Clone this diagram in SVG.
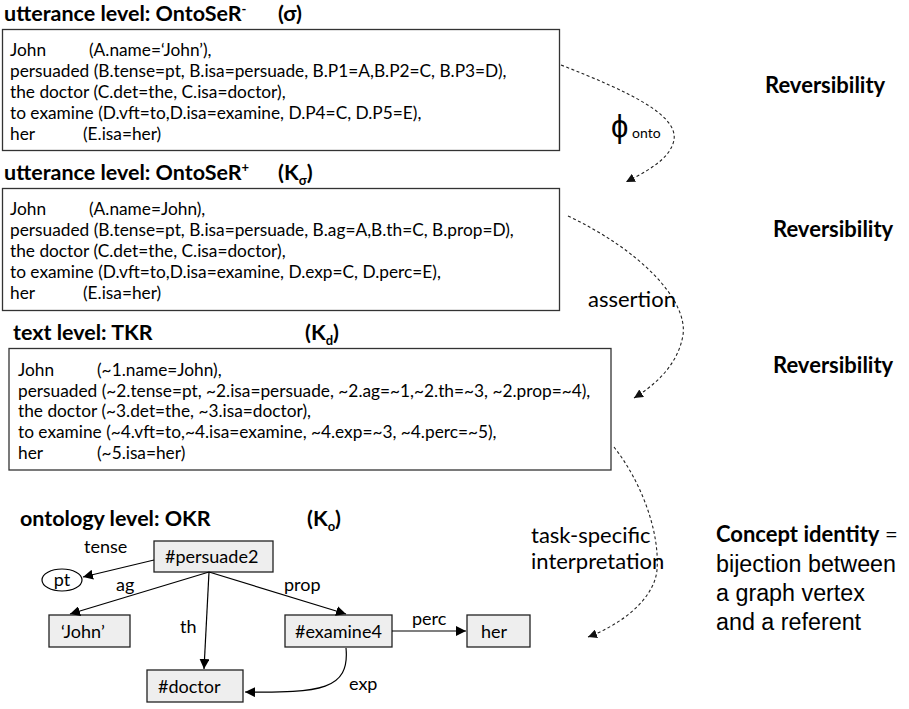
<svg xmlns="http://www.w3.org/2000/svg" width="909" height="709" viewBox="0 0 909 709">
  <style>
    .hdr { font-family: Lato, "Liberation Sans", Arial, sans-serif; font-weight: bold; font-size: 21.5px; fill: #000; }
    .body { font-family: Lato, "Liberation Sans", Arial, sans-serif; font-size: 17.3px; fill: #000; }
    .rev { font-family: Lato, "Liberation Sans", Arial, sans-serif; font-weight: bold; font-size: 22px; fill: #000; }
    .lbl { font-family: Lato, "Liberation Sans", Arial, sans-serif; font-size: 22px; fill: #000; }
    .sub { font-family: Lato, "Liberation Sans", Arial, sans-serif; font-size: 14px; fill: #000; }
    .edge { font-family: Lato, "Liberation Sans", Arial, sans-serif; font-size: 18px; fill: #000; }
    .node { font-family: Lato, "Liberation Sans", Arial, sans-serif; font-size: 18px; fill: #000; }
    .arial { font-family: "Liberation Sans", Arial, sans-serif; font-size: 23.3px; fill: #000; }
    .panel { fill: #fff; stroke: #333; stroke-width: 1.3; }
    .vbox { fill: #eeeeee; stroke: #222; stroke-width: 1.3; }
    .conn { fill: none; stroke: #000; stroke-width: 1.2; }
    .dots { fill: none; stroke: #222; stroke-width: 1.1; stroke-dasharray: 3 2.5; }
  </style>
  <defs>
    <marker id="arr" viewBox="0 0 10 10" refX="10" refY="5" markerWidth="10" markerHeight="10" markerUnits="userSpaceOnUse" orient="auto">
      <path d="M0,0 L10,5 L0,10 z" fill="#000"/>
    </marker>
    <marker id="arrDot" viewBox="0 0 10 10" refX="10" refY="5" markerWidth="9" markerHeight="9" markerUnits="userSpaceOnUse" orient="auto">
      <path d="M0,0 L10,5 L0,10 z" fill="#111"/>
    </marker>
  </defs>

  <!-- Level 1: utterance level OntoSeR- -->
  <g id="level-ontoser-minus">
    <text class="hdr" x="4" y="21">utterance level:  OntoSeR<tspan font-size="13" dy="-7">-</tspan></text>
    <text class="hdr" x="278" y="21">(σ)</text>
    <rect class="panel" x="2.5" y="29.5" width="557" height="121"/>
    <text class="body" x="10" y="56">John</text>
    <text class="body" x="89" y="56">(A.name=‘John’),</text>
    <text class="body" x="10" y="77">persuaded (B.tense=pt, B.isa=persuade, B.P1=A,B.P2=C, B.P3=D),</text>
    <text class="body" x="10" y="98">the doctor (C.det=the, C.isa=doctor),</text>
    <text class="body" x="10" y="119">to examine (D.vft=to,D.isa=examine, D.P4=C, D.P5=E),</text>
    <text class="body" x="10" y="140">her</text>
    <text class="body" x="83" y="140">(E.isa=her)</text>
  </g>

  <!-- Level 2: utterance level OntoSeR+ -->
  <g id="level-ontoser-plus">
    <text class="hdr" x="4" y="180">utterance level:  OntoSeR<tspan font-size="13" dy="-8">+</tspan></text>
    <text class="hdr" x="278" y="180">(K<tspan font-size="13" dy="5">σ</tspan><tspan dy="-5">)</tspan></text>
    <rect class="panel" x="2.5" y="188.5" width="557" height="122"/>
    <text class="body" x="10" y="215">John</text>
    <text class="body" x="89" y="215">(A.name=John),</text>
    <text class="body" x="10" y="236">persuaded (B.tense=pt, B.isa=persuade, B.ag=A,B.th=C, B.prop=D),</text>
    <text class="body" x="10" y="257">the doctor (C.det=the, C.isa=doctor),</text>
    <text class="body" x="10" y="278">to examine (D.vft=to,D.isa=examine, D.exp=C, D.perc=E),</text>
    <text class="body" x="10" y="299">her</text>
    <text class="body" x="83" y="299">(E.isa=her)</text>
  </g>

  <!-- Level 3: text level TKR -->
  <g id="level-tkr">
    <text class="hdr" x="13" y="340">text level: TKR</text>
    <text class="hdr" x="305" y="340">(K<tspan font-size="13" dy="5">d</tspan><tspan dy="-5">)</tspan></text>
    <rect class="panel" x="9" y="348.5" width="602" height="121.5"/>
    <text class="body" x="18" y="376">John</text>
    <text class="body" x="97" y="376">(~1.name=John),</text>
    <text class="body" x="18" y="396.5">persuaded (~2.tense=pt, ~2.isa=persuade, ~2.ag=~1,~2.th=~3, ~2.prop=~4),</text>
    <text class="body" x="18" y="417">the doctor (~3.det=the, ~3.isa=doctor),</text>
    <text class="body" x="18" y="438">to examine (~4.vft=to,~4.isa=examine, ~4.exp=~3, ~4.perc=~5),</text>
    <text class="body" x="18" y="459">her</text>
    <text class="body" x="97" y="459">(~5.isa=her)</text>
  </g>

  <!-- Level 4: ontology level OKR -->
  <g id="level-okr">
    <text class="hdr" x="20" y="526">ontology level: OKR</text>
    <text class="hdr" x="307" y="526">(K<tspan font-size="13" dy="5">o</tspan><tspan dy="-5">)</tspan></text>
  </g>

  <g id="node-persuade2">
    <rect class="vbox" x="154" y="541" width="119" height="31"/>
    <text class="node" x="165" y="563">#persuade2</text>
  </g>
  <g id="node-pt">
    <ellipse cx="62" cy="580" rx="20" ry="11" fill="#fff" stroke="#000" stroke-width="1.2"/>
    <text class="node" x="62" y="586" text-anchor="middle">pt</text>
  </g>
  <g id="node-john">
    <rect class="vbox" x="49" y="615" width="81" height="32"/>
    <text class="node" x="61" y="638">‘John’</text>
  </g>
  <g id="node-doctor">
    <rect class="vbox" x="147" y="670" width="96" height="32"/>
    <text class="node" x="158" y="693">#doctor</text>
  </g>
  <g id="node-examine4">
    <rect class="vbox" x="285" y="615" width="107" height="32"/>
    <text class="node" x="295" y="638">#examine4</text>
  </g>
  <g id="node-her">
    <rect class="vbox" x="467" y="615" width="63" height="32"/>
    <text class="node" x="481" y="638">her</text>
  </g>

  <!-- Graph connectors and edge labels -->
  <g id="connectors">
    <path class="conn" d="M154,560 L83,577" marker-end="url(#arr)"/>
    <path class="conn" d="M209,572 L70,614" marker-end="url(#arr)"/>
    <path class="conn" d="M209,572 L204,669" marker-end="url(#arr)"/>
    <path class="conn" d="M209,572 L346,614" marker-end="url(#arr)"/>
    <path class="conn" d="M392,631 L466,631" marker-end="url(#arr)"/>
    <path class="conn" d="M346,648 C350,690 320,693 245,692" marker-end="url(#arr)"/>
    <text class="edge" x="84" y="553">tense</text>
    <text class="edge" x="116" y="591">ag</text>
    <text class="edge" x="180" y="633">th</text>
    <text class="edge" x="284" y="591">prop</text>
    <text class="edge" x="412" y="625">perc</text>
    <text class="edge" x="349" y="690">exp</text>

    <!-- dotted mappings between levels -->
    <path class="dots" d="M561,65 C630,92 678,115 674,140 C670,160 645,172 626,182" marker-end="url(#arrDot)"/>
    <path class="dots" d="M568,216 C640,250 688,300 683,335 C678,365 655,385 634,398" marker-end="url(#arrDot)"/>
    <path class="dots" d="M614,447 C640,480 660,530 657,570 C654,600 620,625 588,637" marker-end="url(#arrDot)"/>
    <text x="611" y="137" font-family="'Liberation Sans', Arial, sans-serif" font-size="31">ϕ</text>
    <text class="sub" x="632" y="138">onto</text>
    <text class="lbl" x="531" y="543">task-specific</text>
    <text class="lbl" x="531" y="569">interpretation</text>
    <text class="lbl" x="588" y="307">assertion</text>
  </g>

  <!-- Side notes -->
  <g id="notes">
    <text class="rev" x="765" y="93">Reversibility</text>
    <text class="rev" x="773" y="237">Reversibility</text>
    <text class="rev" x="773" y="373">Reversibility</text>
    <text class="rev" x="716" y="542">Concept identity<tspan font-weight="normal"> =</tspan></text>
    <text class="arial" x="716" y="572">bijection between</text>
    <text class="arial" x="716" y="601">a graph vertex</text>
    <text class="arial" x="716" y="630">and a referent</text>
  </g>
</svg>
